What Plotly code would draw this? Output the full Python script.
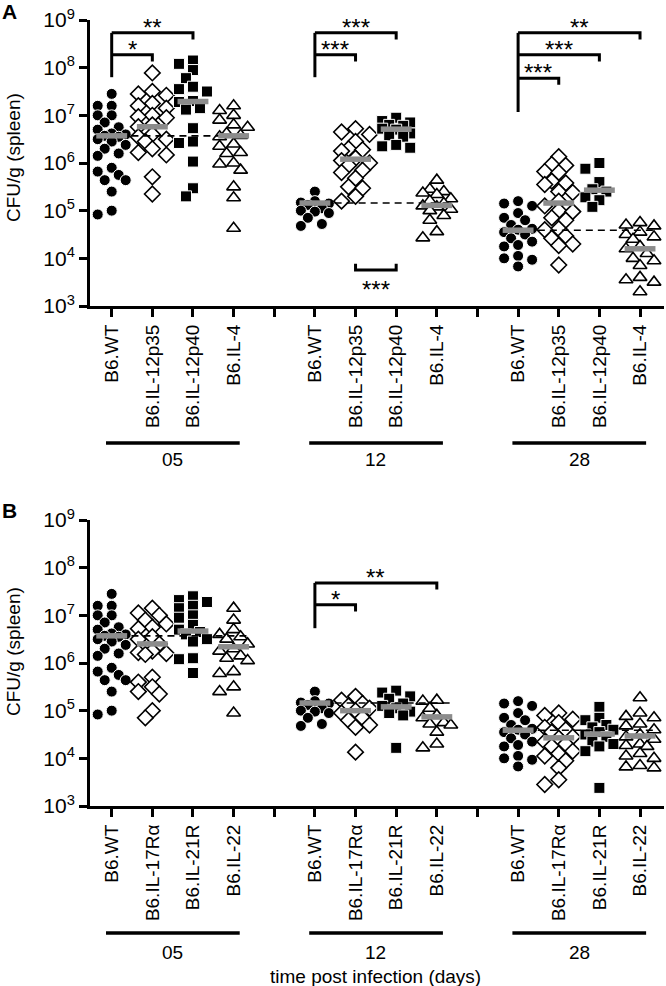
import numpy as np
import plotly.graph_objects as go

# ---------------- categories / ticks ----------------
days = ["05", "12", "28"]
strains_A = ["B6.WT", "B6.IL-12p35", "B6.IL-12p40", "B6.IL-4"]
strains_B = ["B6.WT", "B6.IL-17Rα", "B6.IL-21R", "B6.IL-22"]
y_exponents = [3, 4, 5, 6, 7, 8, 9]

# ---------------- data: log10 CFU/g (spleen) ----------------
WT_05 = [7.45, 7.2, 7.2, 7.0, 7.0, 6.85, 6.75, 6.7, 6.62, 6.6, 6.57, 6.55, 6.5, 6.45,
         6.38, 6.3, 6.2, 6.15, 5.9, 5.82, 5.75, 5.64, 5.64, 5.4, 5.0, 4.92]
WT_12 = [5.40, 5.2, 5.17, 5.15, 5.12, 5.05, 5.0, 4.98, 4.95, 4.85, 4.72, 4.68]
WT_28 = [5.2, 5.15, 5.1, 4.95, 4.85, 4.8, 4.7, 4.62, 4.6, 4.55, 4.5, 4.42, 4.35,
         4.28, 4.25, 4.05, 4.0, 3.97, 3.83]

IL12p35_05 = [7.89, 7.5, 7.45, 7.42, 7.25, 7.2, 7.15, 7.0, 6.97, 6.95, 6.8, 6.76, 6.6,
              6.55, 6.5, 6.45, 6.3, 6.22, 6.17, 5.71, 5.35]
IL12p35_12 = [6.72, 6.65, 6.6, 6.45, 6.3, 6.28, 6.25, 6.1, 6.05, 6.0, 5.95, 5.85, 5.8,
              5.68, 5.5, 5.47, 5.3, 5.2]
IL12p35_28 = [6.13, 5.97, 5.95, 5.82, 5.8, 5.62, 5.58, 5.55, 5.4, 5.38, 5.2, 5.1, 5.0,
              4.98, 4.85, 4.8, 4.62, 4.6, 4.47, 4.42, 4.3, 4.27, 3.86]

IL12p40_05 = [8.15, 8.08, 7.95, 7.78, 7.6, 7.55, 7.5, 7.3, 7.28, 7.15, 7.12, 6.73, 6.45,
              6.42, 6.03, 5.47, 5.3]
IL12p40_12 = [6.95, 6.88, 6.85, 6.8, 6.78, 6.72, 6.7, 6.62, 6.58, 6.55, 6.38, 6.35, 6.32]
IL12p40_28 = [6.0, 5.88, 5.6, 5.45, 5.4, 5.28, 5.22, 5.08]

IL4_05 = [7.2, 7.1, 7.0, 6.9, 6.8, 6.75, 6.62, 6.58, 6.55, 6.4, 6.35, 6.22, 6.2, 6.0,
          5.98, 5.85, 5.5, 5.27, 4.63]
IL4_12 = [5.64, 5.45, 5.4, 5.37, 5.34, 5.25, 5.2, 5.15, 5.1, 5.08, 5.03, 5.0, 4.9, 4.8,
          4.56, 4.43]
IL4_28 = [4.75, 4.7, 4.68, 4.55, 4.5, 4.45, 4.4, 4.25, 4.2, 4.1, 4.0, 3.95, 3.85, 3.6,
          3.55, 3.5, 3.3]

IL17Ra_05 = [7.15, 7.05, 7.0, 6.9, 6.82, 6.75, 6.72, 6.55, 6.5, 6.4, 6.25, 6.22, 6.2,
             6.18, 5.7, 5.6, 5.5, 5.4, 5.35, 5.0, 4.85]
IL17Ra_12 = [5.3, 5.22, 5.15, 5.1, 5.05, 5.0, 4.95, 4.85, 4.8, 4.7, 4.65, 4.13]
IL17Ra_28 = [4.95, 4.9, 4.82, 4.75, 4.65, 4.6, 4.55, 4.45, 4.42, 4.35, 4.3, 4.25, 4.15,
             4.1, 4.05, 3.95, 3.8, 3.55, 3.45]

IL21R_05 = [7.4, 7.32, 7.28, 7.2, 7.15, 7.0, 6.95, 6.8, 6.7, 6.65, 6.6, 6.5, 6.45, 6.1,
            6.08, 5.79]
IL21R_12 = [5.42, 5.38, 5.3, 5.25, 5.15, 5.1, 5.05, 4.98, 4.95, 4.9, 4.22]
IL21R_28 = [5.08, 4.85, 4.8, 4.7, 4.65, 4.6, 4.55, 4.5, 4.45, 4.35, 4.3, 4.25, 4.15, 3.38]

IL22_05 = [7.15, 6.9, 6.7, 6.6, 6.55, 6.5, 6.4, 6.3, 6.25, 6.15, 6.1, 6.05, 5.82, 5.78,
           5.5, 5.4, 4.95]
IL22_12 = [5.22, 5.2, 5.05, 4.9, 4.85, 4.75, 4.72, 4.7, 4.55, 4.3, 4.22]
IL22_28 = [5.27, 4.95, 4.88, 4.85, 4.72, 4.68, 4.6, 4.5, 4.45, 4.4, 4.3, 4.27, 4.25, 4.1,
           4.05, 4.0, 3.85, 3.82, 3.8]

# medians (grey bars), log10, [day][strain]
medians_A = [[6.57, 6.76, 7.29, 6.57], [5.16, 6.08, 6.71, 5.11], [4.59, 5.16, 5.43, 4.2]]
medians_B = [[6.57, 6.40, 6.67, 6.34], [5.16, 5.00, 5.08, 4.87], [4.59, 4.43, 4.51, 4.47]]

# significance: (from category, to category, label, bracket level log10)
sig_A = [(1, 3, "**", 8.73), (1, 2, "*", 8.27),
         (6, 8, "***", 8.73), (6, 7, "***", 8.27),
         (11, 14, "**", 8.73), (11, 13, "***", 8.27), (11, 12, "***", 7.78)]
stems_A = [(1, 8.73, 7.80), (6, 8.73, 7.80), (11, 8.73, 7.07)]
sig_A_low = [(7, 8, "***", 3.756)]
sig_B = [(6, 9, "**", 7.68), (6, 7, "*", 7.22)]
stems_B = [(6, 7.68, 6.73)]

data_A = [[WT_05, IL12p35_05, IL12p40_05, IL4_05],
          [WT_12, IL12p35_12, IL12p40_12, IL4_12],
          [WT_28, IL12p35_28, IL12p40_28, IL4_28]]
data_B = [[WT_05, IL17Ra_05, IL21R_05, IL22_05],
          [WT_12, IL17Ra_12, IL21R_12, IL22_12],
          [WT_28, IL17Ra_28, IL21R_28, IL22_28]]

# ---------------- geometry ----------------
W, H = 666, 986
FONT = "Liberation Sans, Arial, sans-serif"
X0_PX, X1_PX = 90, 664
POS1_PX, CAT_PX = 111.7, 40.64
DEC_PX = 47.67


def PX(px):
    return px / W


def PY(py):
    return 1 - py / H


def px2pos(p):
    return 1 + (p - POS1_PX) / CAT_PX


XRANGE = [px2pos(X0_PX), px2pos(X1_PX)]


def swarm(vals):
    vals = np.asarray(vals, dtype=float)
    order = np.argsort(-vals, kind="stable")
    step = 7.0
    cands = [0, -step, step, -2 * step, 2 * step]
    placed = []
    offs = np.zeros(len(vals))
    for i in order:
        y = vals[i] * DEC_PX
        best, bestd = 0, -1
        for c in cands:
            d = min((np.hypot(c - px, y - py) for px, py in placed), default=1e9)
            if d >= 9.5:
                best = c
                break
            if d > bestd:
                best, bestd = c, d
        offs[i] = best / CAT_PX
        placed.append((best, y))
    return offs


styles = [
    dict(symbol="circle", size=11, color="black", line=dict(color="white", width=1)),
    dict(symbol="diamond", size=12, color="white", line=dict(color="black", width=1.6)),
    dict(symbol="square", size=11, color="black", line=dict(color="white", width=1)),
    dict(symbol="triangle-up", size=12, color="white", line=dict(color="black", width=1.6)),
]

fig = go.Figure()
annotations = []
shapes = []

panels = [
    dict(data=data_A, med=medians_A, strains=strains_A, xa="x", ya="y",
         sig=sig_A, stems=stems_A, low=sig_A_low,
         line_y=443, lab_y=460, letter="A", letter_y=12, title_y=158),
    dict(data=data_B, med=medians_B, strains=strains_B, xa="x2", ya="y2",
         sig=sig_B, stems=stems_B, low=[],
         line_y=933, lab_y=952, letter="B", letter_y=511, title_y=652),
]

STAR_FONT = dict(family=FONT, size=24, color="black")

for P in panels:
    xa, ya = P["xa"], P["ya"]
    for g in range(3):
        for s in range(4):
            vals = P["data"][g][s]
            pos = 1 + 5 * g + s
            offs = swarm(vals)
            fig.add_trace(go.Scatter(
                x=pos + offs, y=[10 ** v for v in vals], mode="markers",
                marker=styles[s], xaxis=xa, yaxis=ya, showlegend=False,
                cliponaxis=False, hoverinfo="skip"))
    dx, dy = [], []
    for g in range(3):
        wt = P["med"][g][0]
        dx += [1 + 5 * g - 0.4, 1 + 5 * g + 3.42, None]
        dy += [10 ** wt, 10 ** wt, None]
    fig.add_trace(go.Scatter(x=dx, y=dy, mode="lines", xaxis=xa, yaxis=ya,
                             line=dict(color="black", width=1.6, dash="7px,5px"),
                             showlegend=False, hoverinfo="skip"))
    mx, my = [], []
    for g in range(3):
        for s in range(4):
            pos = 1 + 5 * g + s
            m = P["med"][g][s]
            mx += [pos - 0.38, pos + 0.38, None]
            my += [10 ** m, 10 ** m, None]
    fig.add_trace(go.Scatter(x=mx, y=my, mode="lines", xaxis=xa, yaxis=ya,
                             line=dict(color="#8c8c8c", width=5.5),
                             showlegend=False, hoverinfo="skip"))
    bx, by = [], []
    for (a, b, lab, lvl) in P["sig"]:
        drop = lvl - 0.14
        bx += [a, b, b, None]
        by += [10 ** lvl, 10 ** lvl, 10 ** drop, None]
        annotations.append(dict(x=(a + b) / 2, y=lvl, xref=xa, yref=ya, text=lab,
                                showarrow=False, yanchor="bottom", yshift=-10,
                                font=STAR_FONT))
    for (a, t, btm) in P["stems"]:
        bx += [a, a, None]
        by += [10 ** t, 10 ** btm, None]
    for (a, b, lab, lvl) in P["low"]:
        up = lvl + 0.13
        bx += [a, a, b, b, None]
        by += [10 ** up, 10 ** lvl, 10 ** lvl, 10 ** up, None]
        annotations.append(dict(x=(a + b) / 2, y=lvl, xref=xa, yref=ya, text=lab,
                                showarrow=False, yanchor="top", yshift=-4,
                                font=STAR_FONT))
    fig.add_trace(go.Scatter(x=bx, y=by, mode="lines", xaxis=xa, yaxis=ya,
                             line=dict(color="black", width=3),
                             showlegend=False, hoverinfo="skip", cliponaxis=False))
    for g in range(3):
        shapes.append(dict(type="line", xref=xa, yref="paper",
                           x0=5 * g + 0.86, x1=5 * g + 4.15,
                           y0=PY(P["line_y"]), y1=PY(P["line_y"]),
                           line=dict(color="black", width=3.5)))
        annotations.append(dict(x=5 * g + 2.5, y=PY(P["lab_y"]), xref=xa, yref="paper",
                                text=days[g], showarrow=False, yanchor="middle",
                                font=dict(family=FONT, size=19, color="black")))
    annotations.append(dict(x=PX(1), y=PY(P["letter_y"]), xref="paper", yref="paper",
                            text="<b>" + P["letter"] + "</b>", showarrow=False,
                            xanchor="left", yanchor="middle", borderpad=0,
                            font=dict(family=FONT, size=21, color="black")))
    annotations.append(dict(x=PX(13), y=PY(P["title_y"]), xref="paper", yref="paper",
                            text="CFU/g (spleen)", textangle=-90, showarrow=False,
                            xanchor="center", yanchor="middle", borderpad=0,
                            font=dict(family=FONT, size=19, color="black")))

annotations.append(dict(x=PX(375), y=PY(976), xref="paper", yref="paper",
                        text="time post infection (days)", showarrow=False,
                        xanchor="center", yanchor="middle",
                        font=dict(family=FONT, size=19, color="black")))

tickvals_x = list(range(1, 15))


def ticktext(strains):
    out = []
    for g in range(3):
        out += strains
        if g < 2:
            out.append(" ")
    return out


def xaxis(strains, anchor):
    return dict(domain=[PX(X0_PX), PX(X1_PX)], range=XRANGE, anchor=anchor,
                tickmode="array", tickvals=tickvals_x, ticktext=ticktext(strains),
                tickangle=-90, ticks="outside", ticklen=8, tickwidth=3, tickcolor="black",
                showline=True, linewidth=3, linecolor="black", showgrid=False,
                zeroline=False, automargin=False, ticklabeloverflow="allow",
                tickfont=dict(family=FONT, size=19, color="black"))


def yaxis(anchor, top_px, bottom_px):
    return dict(domain=[PY(bottom_px), PY(top_px)], type="log", range=[3, 9],
                anchor=anchor, tickmode="array", tickvals=[10 ** e for e in y_exponents],
                ticktext=["10<sup>%d</sup>" % e for e in y_exponents],
                ticks="outside", ticklen=8, tickwidth=3, tickcolor="black",
                showline=True, linewidth=3, linecolor="black", showgrid=False,
                zeroline=False, automargin=False, ticklabeloverflow="allow",
                tickfont=dict(family=FONT, size=21, color="black"))


fig.update_layout(
    width=W, height=H, margin=dict(l=0, r=0, t=0, b=0),
    paper_bgcolor="white", plot_bgcolor="white",
    xaxis=xaxis(strains_A, "y"), yaxis=yaxis("x", 20, 306),
    xaxis2=xaxis(strains_B, "y2"), yaxis2=yaxis("x2", 520, 806),
    annotations=annotations, shapes=shapes, showlegend=False,
)

fig.write_html("out.html", config={"displayModeBar": False},
               post_script="document.body.style.margin='0px';"
                           "document.body.style.overflow='hidden';")
